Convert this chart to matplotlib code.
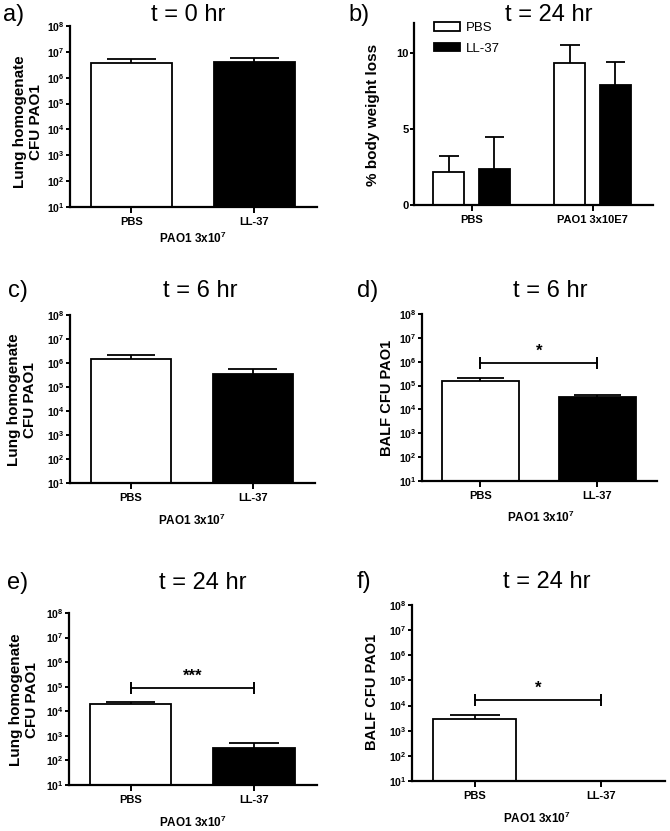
import numpy as np
import matplotlib
matplotlib.use("Agg")
import matplotlib.pyplot as plt
from matplotlib.patches import Patch

plt.rcParams['font.family'] = ['Liberation Sans', 'DejaVu Sans']
plt.rcParams['mathtext.fontset'] = 'custom'
plt.rcParams['mathtext.rm'] = 'Liberation Sans:bold'
plt.rcParams['mathtext.bf'] = 'Liberation Sans:bold'
plt.rcParams['mathtext.it'] = 'Liberation Sans:bold'
plt.rcParams['mathtext.default'] = 'rm'

# ---------------- data ----------------
groups = ["PBS", "LL-37"]
bar_colors = ["white", "black"]
log_ticks = [1e1, 1e2, 1e3, 1e4, 1e5, 1e6, 1e7, 1e8]
log_ticklabels = [r"$10^{1}$", r"$10^{2}$", r"$10^{3}$", r"$10^{4}$",
                  r"$10^{5}$", r"$10^{6}$", r"$10^{7}$", r"$10^{8}$"]

a_mean = [3.7e6, 4.2e6]
a_top = [5.2e6, 5.6e6]

c_mean = [1.4e6, 3.6e5]
c_top = [2.1e6, 5.6e5]

d_mean = [1.6e5, 3.4e4]
d_top = [2.0e5, 4.1e4]
d_sig = 9e5

e_mean = [1.9e4, 3.2e2]
e_top = [2.5e4, 5.2e2]
e_sig = 9e4

f_mean = [2.8e3, np.nan]
f_top = [4.4e3, np.nan]
f_sig = 1.65e4

b_groups = ["PBS", "PAO1 3x10E7"]
b_pbs_mean = [2.2, 9.34]
b_pbs_top = [3.23, 10.55]
b_ll_mean = [2.37, 7.93]
b_ll_top = [4.48, 9.43]
b_ticks = [0, 5, 10]

# ---------------- figure ----------------
W, H = 670, 831
fig = plt.figure(figsize=(W / 100, H / 100), dpi=100)


def add_ax(x0, y0, x1, y1):
    return fig.add_axes([x0 / W, 1 - y1 / H, (x1 - x0) / W, (y1 - y0) / H])


def px_to_axfrac(box, px, py):
    x0, y0, x1, y1 = box
    return (px - x0) / (x1 - x0), (y1 - py) / (y1 - y0)


def style(ax):
    for s in ["top", "right"]:
        ax.spines[s].set_visible(False)
    for s in ["left", "bottom"]:
        ax.spines[s].set_linewidth(1.6)
    ax.tick_params(axis="y", direction="out", length=3, width=1.4, pad=1,
                   labelsize=7.5)
    ax.tick_params(axis="x", direction="out", length=4, width=1.4, pad=3,
                   labelsize=8)
    for t in ax.get_xticklabels():
        t.set_fontweight("bold")
    for t in ax.get_yticklabels():
        t.set_fontweight("bold")


def labels(ax, box, ylab, ypos, xlab=None, xpos=None, ysize=11):
    ax.set_ylabel(ylab, fontsize=ysize, fontweight="bold", linespacing=1.1)
    ax.yaxis.label.set_va("center")
    ax.yaxis.label.set_ha("center")
    ax.yaxis.set_label_coords(*px_to_axfrac(box, *ypos))
    if xlab is not None:
        ax.set_xlabel(xlab, fontsize=8.5, fontweight="bold")
        ax.xaxis.label.set_va("center")
        ax.xaxis.label.set_ha("center")
        ax.xaxis.set_label_coords(*px_to_axfrac(box, *xpos))


def log_panel(box, means, tops, ylab, ypos, xpos, sig=None, star=None,
              ysize=11):
    ax = add_ax(*box)
    x = np.arange(len(groups))
    width = 0.66
    for xi, m, t, col in zip(x, means, tops, bar_colors):
        if np.isnan(m):
            continue
        ax.bar(xi, m - 10, bottom=10, width=width, color=col,
               edgecolor="black", linewidth=1.3, zorder=2)
        ax.vlines(xi, m, t, color="black", linewidth=1.3, zorder=3)
        ax.hlines(t, xi - 0.2, xi + 0.2, color="black", linewidth=1.3,
                  zorder=3)
    ax.set_yscale("log")
    ax.set_ylim(10, 1e8)
    ax.set_xlim(-0.5, 1.51)
    ax.set_yticks(log_ticks)
    ax.set_yticklabels(log_ticklabels)
    ax.minorticks_off()
    ax.set_xticks(x)
    ax.set_xticklabels(groups)
    style(ax)
    if sig is not None:
        ax.plot([0, 1], [sig, sig], color="black", linewidth=1.3,
                marker="|", markersize=8, markeredgewidth=1.4)
        ax.annotate(star, (0.5, sig), xytext=(0, 3),
                    textcoords="offset points", ha="center", va="bottom",
                    fontsize=12, fontweight="bold")
    labels(ax, box, ylab, ypos, r"PAO1 3x10$^{7}$", xpos, ysize=ysize)
    return ax


# panel a
box_a = (70, 26, 317, 207)
log_panel(box_a, a_mean, a_top, "Lung homogenate\nCFU PAO1", (28, 122),
          (193, 238))
# panel c
box_c = (70, 315, 315, 483)
log_panel(box_c, c_mean, c_top, "Lung homogenate\nCFU PAO1", (22, 400),
          (192, 520))
# panel d
box_d = (422, 314, 657, 481)
log_panel(box_d, d_mean, d_top, "BALF CFU PAO1", (387, 398), (541, 517),
          sig=d_sig, star="*", ysize=10.5)
# panel e
box_e = (69, 613, 317, 785)
log_panel(box_e, e_mean, e_top, "Lung homogenate\nCFU PAO1", (24, 700),
          (193, 822), sig=e_sig, star="***")
# panel f
box_f = (412, 605, 665, 781)
log_panel(box_f, f_mean, f_top, "BALF CFU PAO1", (372, 692), (537, 818),
          sig=f_sig, star="*", ysize=10.5)

# panel b
box_b = (414, 23, 653, 205)
axb = add_ax(*box_b)
xb = np.arange(len(b_groups))
bw = 0.256
off = 0.188
for xs, m, t, col, lab in [(xb - off, b_pbs_mean, b_pbs_top, "white", "PBS"),
                           (xb + off, b_ll_mean, b_ll_top, "black", "LL-37")]:
    axb.bar(xs, m, width=bw, color=col, edgecolor="black", linewidth=1.3,
            zorder=2, label=lab)
    axb.vlines(xs, m, t, color="black", linewidth=1.3, zorder=3)
    axb.hlines(t, xs - 0.08, xs + 0.08, color="black", linewidth=1.3,
               zorder=3)
axb.set_ylim(0, 12)
axb.set_xlim(-0.477, 1.498)
axb.set_yticks(b_ticks)
axb.set_xticks(xb)
axb.set_xticklabels(b_groups)
style(axb)
axb.tick_params(axis="y", labelsize=8)
labels(axb, box_b, "% body weight loss", (373, 115))
handles = [Patch(facecolor="white", edgecolor="black", linewidth=1.3),
           Patch(facecolor="black", edgecolor="black", linewidth=1.3)]
leg = axb.legend(handles, ["PBS", "LL-37"], loc="upper left",
                 bbox_to_anchor=px_to_axfrac(box_b, 434, 22),
                 frameon=False, fontsize=9.5, handlelength=2.0,
                 handleheight=0.65, labelspacing=0.65, handletextpad=0.4,
                 borderaxespad=0, borderpad=0)

# titles and panel letters
title_kw = dict(fontsize=17, ha="center", va="center")
let_kw = dict(fontsize=17, ha="left", va="center")
fig.text(3 / W, 1 - 15 / H, "a)", **let_kw)
fig.text(188 / W, 1 - 15 / H, "t = 0 hr", **title_kw)
fig.text(348 / W, 1 - 15 / H, "b)", **let_kw)
fig.text(549 / W, 1 - 15 / H, "t = 24 hr", **title_kw)
fig.text(8 / W, 1 - 291 / H, "c)", **let_kw)
fig.text(200 / W, 1 - 291 / H, "t = 6 hr", **title_kw)
fig.text(357 / W, 1 - 291 / H, "d)", **let_kw)
fig.text(550 / W, 1 - 291 / H, "t = 6 hr", **title_kw)
fig.text(7 / W, 1 - 583 / H, "e)", **let_kw)
fig.text(203 / W, 1 - 583 / H, "t = 24 hr", **title_kw)
fig.text(357 / W, 1 - 582 / H, "f)", **let_kw)
fig.text(547 / W, 1 - 582 / H, "t = 24 hr", **title_kw)

fig.savefig("out.png", dpi=100)
